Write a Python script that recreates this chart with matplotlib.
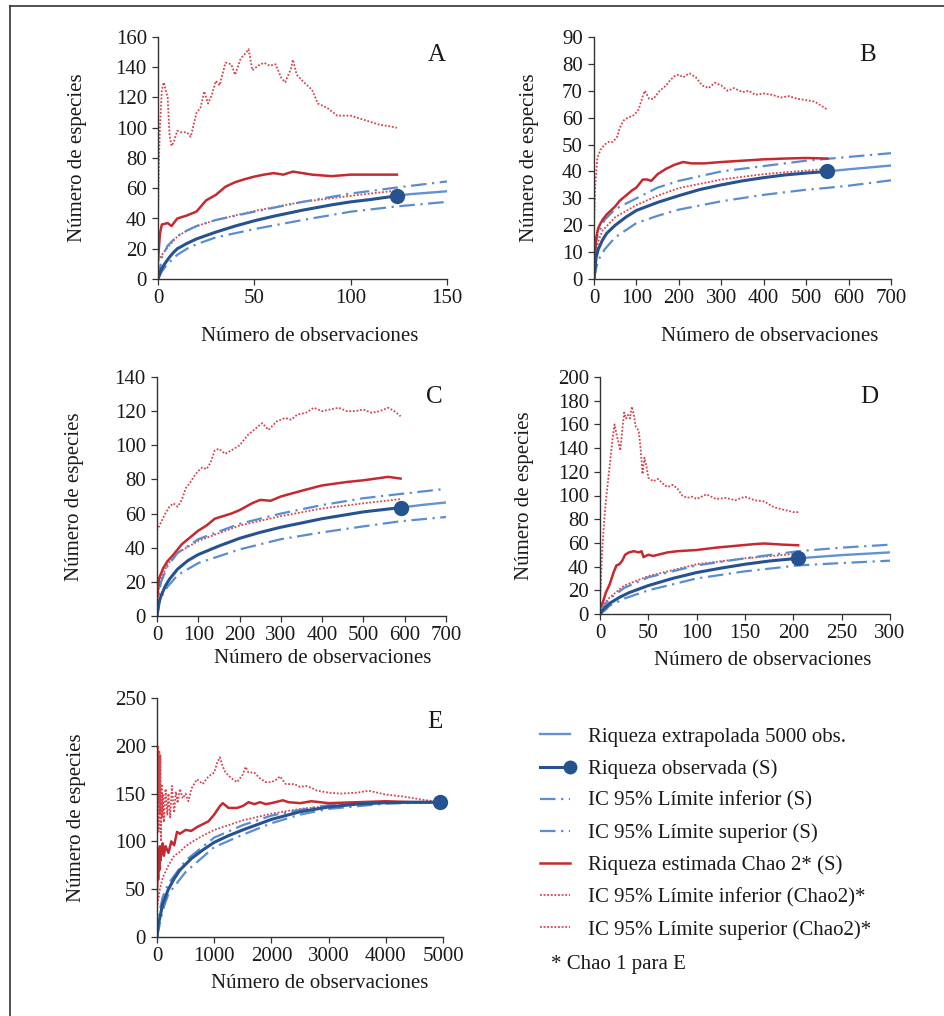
import matplotlib
matplotlib.use("Agg")
import matplotlib.pyplot as plt
from matplotlib.lines import Line2D
from matplotlib.legend_handler import HandlerLine2D

plt.rcParams['font.family'] = ['Liberation Serif', 'DejaVu Serif']

# ---------------- datos ----------------
# Panel A
A_obs_x = [0, 1, 2, 4, 6, 8, 10, 15, 20, 30, 40, 50, 60, 75, 90, 100, 110, 124]
A_obs_y = [0, 4, 7, 11, 14.5, 17.5, 20, 23.5, 26.5, 31, 35, 38.5, 41.5, 45.5, 49, 51, 52.5, 55]
A_ext_x = [124, 130, 140, 150]
A_ext_y = [55, 56, 57, 58]
A_ci_x = [0, 2, 5, 10, 15, 20, 30, 50, 75, 100, 124, 150]
A_ci_hi = [0, 14, 22, 28.5, 32, 35, 39, 44.5, 51, 56.5, 60.5, 64.5]
A_ci_lo = [0, 5, 10, 16, 20, 23, 27.5, 33, 39, 44.5, 48, 51]
A_chlo_x = [0, 1, 2, 5, 10, 15, 20, 30, 50, 75, 100, 124]
A_chlo_y = [12, 14, 16, 21, 28, 32, 35, 39, 45, 51, 55, 58.5]
A_chao_x = [0, 1, 2, 5, 7, 10, 15, 20, 25, 30, 35, 40, 45, 50, 55, 60, 65, 70, 75, 80, 90, 100, 110, 124]
A_chao_y = [12, 30, 36, 37, 35, 40, 42, 44.6, 52, 55.6, 61, 64, 66, 67.7, 69, 70, 69, 71, 70, 69, 68, 69, 69, 69]
A_chhi_x = [0, 0.5, 1, 2, 3, 4, 5, 6, 7, 8, 10, 12, 15, 17, 20, 22, 24, 26, 28, 30, 32, 35, 38, 40,
            43, 46, 47, 49, 52, 55, 58, 61, 64, 66, 69, 70, 72, 75, 80, 83, 88, 93, 100, 105, 110,
            115, 120, 124]
A_chhi_y = [40, 80, 100, 125, 130, 125, 120, 95, 88, 90, 98, 97, 97, 94, 110, 113, 124, 116, 122, 131,
            128, 143, 142, 135, 146, 150, 152, 138, 141, 143, 141, 142, 133, 130, 139, 145, 135, 131,
            125, 116, 113, 108, 108, 106, 104, 102, 101, 100]

# Panel B
B_obs_x = [0, 5, 10, 20, 30, 50, 75, 100, 150, 200, 250, 300, 350, 400, 450, 500, 550]
B_obs_y = [0, 8, 11, 14.5, 17, 20, 23, 25.5, 28.5, 31, 33.3, 35, 36.5, 37.7, 38.7, 39.4, 40]
B_ext_x = [550, 600, 650, 700]
B_ext_y = [40, 40.8, 41.5, 42.2]
B_ci_x = [0, 5, 10, 25, 50, 100, 150, 200, 300, 400, 500, 550, 600, 700]
B_ci_hi = [0, 14, 17, 22, 26, 30, 34, 36.5, 40, 42, 44, 44.7, 45.4, 46.8]
B_ci_lo = [0, 4, 7, 11, 15.5, 20.8, 23.5, 25.8, 28.9, 31.3, 33.2, 33.9, 34.7, 36.7]
B_chlo_x = [0, 5, 10, 20, 50, 100, 150, 200, 300, 400, 500, 550]
B_chlo_y = [2, 10, 14, 18, 23, 27.5, 31, 33.8, 37, 39, 40.3, 41]
B_chao_x = [0, 5, 10, 20, 30, 40, 50, 60, 75, 90, 100, 115, 125, 135, 150, 170, 190, 210, 230, 260,
            300, 350, 400, 450, 500, 550]
B_chao_y = [5, 15, 19, 22, 24, 25.5, 27, 29, 31, 33, 34, 37, 37, 36.5, 39, 41, 42.5, 43.5, 43, 43,
            43.5, 44, 44.5, 44.8, 45, 44.8]
B_chhi_x = [0, 3, 8, 15, 25, 35, 45, 55, 60, 70, 80, 95, 105, 115, 120, 130, 140, 155, 170, 180,
            190, 200, 210, 225, 240, 255, 270, 285, 300, 315, 330, 350, 365, 380, 400, 420, 440,
            460, 480, 500, 520, 535, 550]
B_chhi_y = [20, 35, 45, 48, 50, 51, 51, 53, 56, 59, 60, 61, 63, 68, 70, 67, 67, 70, 72, 74,
            75.5, 76, 75, 76.5, 75, 72, 71, 73, 72, 70, 71, 69.5, 70, 68.5, 69, 68.5, 67.5,
            68, 67, 66.5, 66, 64.5, 63]

# Panel C
C_obs_x = [0, 5, 10, 20, 30, 50, 75, 100, 150, 200, 250, 300, 400, 500, 590]
C_obs_y = [0, 8, 12, 17.5, 21.5, 27.5, 32.5, 36, 41, 45.5, 49, 52, 57, 61, 63.5]
C_ext_x = [590, 640, 700]
C_ext_y = [63.5, 65, 66.5]
C_ci_x = [0, 5, 10, 25, 50, 100, 200, 300, 400, 500, 590, 700]
C_ci_hi = [0, 14, 20, 29, 37, 45, 54, 60, 65, 69, 71.5, 74.5]
C_ci_lo = [0, 7, 11, 17, 24, 31, 39, 45, 49, 52.5, 55.5, 58]
C_chlo_x = [0, 5, 10, 25, 50, 100, 200, 300, 400, 500, 590]
C_chlo_y = [5, 17, 22, 30, 37, 44, 53, 58.5, 63, 66, 68.5]
C_chao_x = [0, 5, 15, 25, 40, 60, 80, 100, 120, 140, 160, 180, 200, 230, 250, 275, 300, 330, 360,
            400, 430, 460, 500, 530, 560, 590]
C_chao_y = [10, 22, 28, 32, 36, 42, 46, 50, 53, 57, 58.5, 60, 62, 66, 68, 67.5, 70, 72, 74,
            76.5, 77.5, 78.5, 79.5, 80.5, 81.5, 80.5]
C_chhi_x = [0, 10, 20, 30, 40, 50, 60, 70, 80, 90, 100, 110, 120, 130, 140, 150, 165, 180, 200, 220,
            240, 255, 270, 290, 310, 325, 340, 360, 380, 400, 420, 440, 460, 480, 500, 520, 540,
            560, 575, 590]
C_chhi_y = [50, 55, 60, 64, 66, 64, 68, 75, 78, 82, 85, 87, 86, 90, 97, 98, 95, 97, 100, 106,
            110, 113, 109, 114, 116, 115, 118, 119, 122, 120, 121, 122, 120, 120, 121, 119, 120,
            122, 120, 117]

# Panel D
D_obs_x = [0, 3, 5, 10, 20, 30, 50, 75, 100, 125, 150, 175, 205]
D_obs_y = [0, 3.5, 5, 9, 14, 18, 24, 30, 35, 38.7, 42, 44.7, 47]
D_ext_x = [205, 250, 300]
D_ext_y = [47, 49.7, 52]
D_ci_x = [0, 5, 10, 25, 50, 100, 150, 205, 250, 300]
D_ci_hi = [0, 8, 13, 22, 31, 41, 47, 53, 56, 58.5]
D_ci_lo = [0, 3, 7, 13, 20, 30, 36, 41, 43, 45]
D_chlo_x = [0, 5, 10, 25, 50, 100, 150, 205]
D_chlo_y = [3, 9, 14, 24, 32, 42, 47, 51]
D_chao_x = [0, 3, 6, 10, 14, 17, 20, 23, 26, 30, 35, 40, 43, 45, 50, 55, 60, 70, 80, 100,
            120, 140, 160, 170, 180, 190, 205]
D_chao_y = [5, 10, 18, 25, 35, 41, 42, 45, 50, 52, 53, 52, 53, 48, 50, 49, 50, 52, 53, 54,
            56, 57.5, 59, 59.5, 59, 58.5, 58]
D_chhi_x = [0, 2, 4, 6, 8, 10, 13, 15, 17, 19, 21, 23, 25, 27, 29, 31, 33, 35, 37, 40,
            42, 44, 46, 48, 50, 55, 60, 65, 70, 75, 80, 85, 90, 95, 100, 110, 120, 130, 140, 150,
            160, 170, 180, 190, 200, 205]
D_chhi_y = [10, 50, 75, 95, 110, 125, 148, 160, 152, 145, 138, 155, 170, 165, 168, 165, 175, 168, 158, 155,
            140, 118, 132, 125, 115, 112, 114, 110, 107, 109, 106, 100, 98, 99, 97, 101, 97, 98, 96, 99,
            96, 95, 90, 88, 86, 86]

# Panel E
E_obs_x = [0, 25, 50, 100, 200, 300, 400, 600, 800, 1000, 1250, 1500, 2000, 2500, 3000, 3500, 4000,
           4500, 4950]
E_obs_y = [0, 14, 20, 35, 50, 61, 70, 82, 91, 99, 106, 112, 123, 131, 136, 139, 140.5, 141, 141]
E_ext_x = [4950, 5000]
E_ext_y = [141, 141]
E_ci_x = [0, 50, 100, 200, 500, 1000, 1500, 2000, 2500, 3000, 4000, 4950, 5000]
E_ci_hi = [0, 28, 42, 56, 80, 104, 117, 127, 133, 138, 141, 141, 141]
E_ci_lo = [0, 14, 28, 45, 68, 94, 107, 119, 128, 134, 139.5, 141, 141]
E_chlo_x = [0, 50, 100, 200, 300, 400, 500, 600, 800, 1000, 1250, 1500, 2000, 2500, 3000, 3500,
            4000, 4950]
E_chlo_y = [30, 50, 62, 75, 85, 89, 95, 99, 106, 112, 117, 122, 129, 134, 137, 140, 141, 141]
E_chao_x = [0, 10, 20, 30, 40, 50, 60, 80, 100, 120, 150, 200, 250, 300, 350, 400, 500, 600, 700,
            800, 900, 1000, 1100, 1150, 1250, 1400, 1500, 1600, 1700, 1800, 1900, 2000, 2200, 2300,
            2500, 2700, 3000, 3500, 4000, 4500, 4950]
E_chao_y = [40, 85, 60, 92, 70, 95, 80, 90, 98, 85, 95, 88, 100, 96, 110, 108, 112, 111, 115,
            118, 121, 128, 137, 140, 135, 135, 137, 141, 139, 141, 139, 140, 143, 141,
            140, 142, 140, 141, 142, 141, 141]
E_chhi_x = [0, 10, 20, 30, 40, 50, 60, 70, 80, 90, 100, 120, 150, 180, 200, 230, 260, 300, 330, 360,
            400, 450, 500, 550, 600, 700, 800, 900, 1000, 1050, 1100, 1150, 1200, 1300, 1400, 1500,
            1550, 1600, 1700, 1800, 1900, 2000, 2100, 2150, 2250, 2400, 2500, 2600, 2700, 2800,
            3000, 3200, 3500, 3700, 4000, 4300, 4600, 4950]
E_chhi_y = [222, 140, 200, 110, 195, 130, 190, 100, 160, 125, 150, 120, 155, 128, 150, 125, 158, 130,
            152, 140, 155, 145, 150, 142, 155, 165, 160, 168, 172, 182, 188, 178, 172, 166, 162, 170,
            178, 172, 172, 166, 162, 162, 165, 168, 160, 160, 157, 158, 156, 153,
            151, 150, 151, 153, 149, 147, 144, 141]

legend_labels = ["Riqueza extrapolada 5000 obs.", "Riqueza observada (S)",
                 "IC 95% Límite inferior (S)", "IC 95% Límite superior (S)",
                 "Riqueza estimada Chao 2* (S)", "IC 95% Límite inferior (Chao2)*",
                 "IC 95% Límite superior (Chao2)*"]

# ---------------- estilos ----------------
C_EXT = '#6193d3'
C_OBS = '#26528f'
C_CI = '#5a8dce'
C_CHAO = '#c42a30'
C_CHDOT = '#d8434e'
DASHDOT = (0, (7, 2.5, 1, 2.5))
DOT = (0, (1, 1))

W, H = 944, 1016
fig = plt.figure(figsize=(W / 100, H / 100), dpi=100)


def caja(x0, y0, x1, y1):
    return [x0 / W, 1 - y1 / H, (x1 - x0) / W, (y1 - y0) / H]


def panel(pos, letra, pref, xmax, xstep, ymax, ystep, letra_xy, xlab_xy, ylab_x):
    d = globals()
    ax = fig.add_axes(caja(*pos))
    ax.plot(d[pref + '_chhi_x'], d[pref + '_chhi_y'], color=C_CHDOT, lw=1.3, ls=DOT)
    ax.plot(d[pref + '_chlo_x'], d[pref + '_chlo_y'], color=C_CHDOT, lw=1.3, ls=DOT)
    ax.plot(d[pref + '_ci_x'], d[pref + '_ci_lo'], color=C_CI, lw=1.6, ls=DASHDOT)
    ax.plot(d[pref + '_ci_x'], d[pref + '_ci_hi'], color=C_CI, lw=1.6, ls=DASHDOT)
    ax.plot(d[pref + '_ext_x'], d[pref + '_ext_y'], color=C_EXT, lw=1.7)
    ax.plot(d[pref + '_chao_x'], d[pref + '_chao_y'], color=C_CHAO, lw=1.8)
    ox, oy = d[pref + '_obs_x'], d[pref + '_obs_y']
    ax.plot(ox, oy, color=C_OBS, lw=2.2)
    ax.plot(ox[-1:], oy[-1:], 'o', color=C_OBS, ms=10, zorder=5, clip_on=False)

    ax.set_xlim(0, xmax)
    ax.set_ylim(0, ymax)
    ax.set_xticks(range(0, xmax + 1, xstep))
    ax.set_yticks(range(0, ymax + 1, ystep))
    for s in ['top', 'right']:
        ax.spines[s].set_visible(False)
    for s in ['left', 'bottom']:
        ax.spines[s].set_color('#333333')
        ax.spines[s].set_linewidth(1.0)
    ax.tick_params(direction='out', length=4, width=0.9, color='#333333',
                   labelsize=15, labelcolor='#1a1a1a')
    ax.tick_params(axis='y', pad=4)
    ax.tick_params(axis='x', pad=3)
    ax.set_xlabel('Número de observaciones', fontsize=15, color='#1a1a1a')
    ax.set_ylabel('Número de especies', fontsize=15, color='#1a1a1a')
    ax.xaxis.set_label_coords(*xlab_xy)
    ax.yaxis.set_label_coords(ylab_x, 0.5)
    ax.text(letra_xy[0], letra_xy[1], letra, transform=ax.transAxes, fontsize=18,
            ha='center', va='center', color='#1a1a1a')
    return ax


panel((158, 37, 447, 279), 'A', 'A', 150, 50, 160, 20, (0.965, 0.926), (0.526, -0.198), -0.246)
panel((594, 37, 891, 279), 'B', 'B', 700, 100, 90, 10, (0.92, 0.926), (0.59, -0.198), -0.185)
panel((157, 377, 446, 616), 'C', 'C', 700, 100, 140, 20, (0.96, 0.916), (0.574, -0.138), -0.253)
panel((600, 377, 890, 614), 'D', 'D', 300, 50, 200, 20, (0.93, 0.915), (0.562, -0.156), -0.228)
panel((157, 698, 443, 937), 'E', 'E', 5000, 1000, 250, 50, (0.97, 0.90), (0.57, -0.155), -0.248)

# leyenda
handles = [Line2D([], [], color=C_EXT, lw=1.7),
           Line2D([], [], color=C_OBS, lw=2.2, marker='o', ms=9),
           Line2D([], [], color=C_CI, lw=1.6, ls=DASHDOT),
           Line2D([], [], color=C_CI, lw=1.6, ls=DASHDOT),
           Line2D([], [], color=C_CHAO, lw=1.8),
           Line2D([], [], color=C_CHDOT, lw=1.3, ls=DOT),
           Line2D([], [], color=C_CHDOT, lw=1.3, ls=DOT)]


class MarcaFinal(HandlerLine2D):
    def create_artists(self, *args, **kwargs):
        arts = super().create_artists(*args, **kwargs)
        arts[0].set_markevery([2])
        return arts


fig.legend(handles, legend_labels, loc='upper left', bbox_to_anchor=(540 / W, 1 - 727 / H),
           frameon=False, fontsize=15, handlelength=1.45, handletextpad=0.85,
           labelspacing=0.6, borderpad=0, borderaxespad=0, numpoints=1,
           handler_map={handles[1]: MarcaFinal()}, labelcolor='#1a1a1a')
fig.text(551 / W, 1 - 965 / H, '* Chao 1 para E', fontsize=15, va='center', color='#1a1a1a')

# marco
fig.add_artist(Line2D([10 / W, 1], [1 - 6 / H, 1 - 6 / H], transform=fig.transFigure,
                      color='#333333', lw=1.2))
fig.add_artist(Line2D([10 / W, 10 / W], [0, 1 - 6 / H], transform=fig.transFigure,
                      color='#333333', lw=1.2))

fig.savefig('out.png', dpi=100, facecolor='white')
